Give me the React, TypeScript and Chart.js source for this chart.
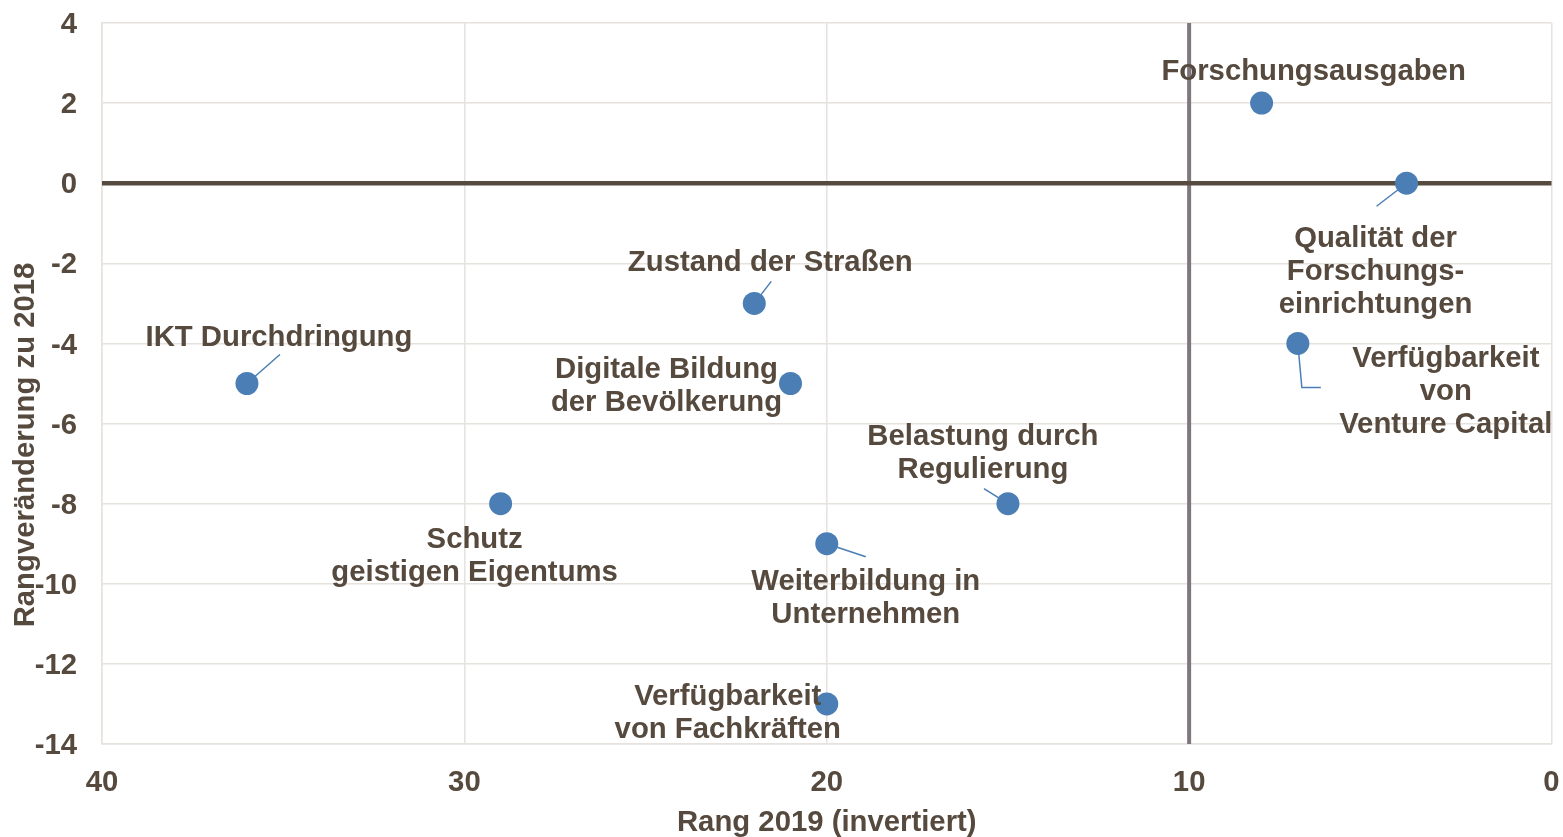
import React, { useEffect, useRef } from "react";
import { Chart, registerables } from "chart.js";

Chart.register(...registerables);

const categories: string[][] = [
  ["Forschungsausgaben"],
  ["Qualität der", "Forschungs-", "einrichtungen"],
  ["Verfügbarkeit", "von", "Venture Capital"],
  ["Zustand der Straßen"],
  ["IKT Durchdringung"],
  ["Digitale Bildung", "der Bevölkerung"],
  ["Schutz", "geistigen Eigentums"],
  ["Belastung durch", "Regulierung"],
  ["Weiterbildung in", "Unternehmen"],
  ["Verfügbarkeit", "von Fachkräften"],
];
const rank2019: number[] = [8, 4, 7, 22, 36, 21, 29, 15, 20, 20];
const rankChange: number[] = [2, 0, -4, -3, -5, -5, -8, -8, -9, -13];

const xTicks: number[] = [0, 10, 20, 30, 40];
const yTicks: number[] = [-14, -12, -10, -8, -6, -4, -2, 0, 2, 4];
const xTitle = "Rang 2019 (invertiert)";
const yTitle = "Rangveränderung zu 2018";

// label placement (pixel offsets from the point) – presentation only
const labelOffsets: [number, number][] = [
  [52, -33], [-31, 54], [148, 13], [16, -42], [32, -48],
  [-124, -16], [-26, 34], [-25, -69], [39, 36], [-99, -9],
];
const leaderPaths: [number, number][][] = [
  [], [[-30, 23]], [[4, 44], [23, 44]], [[17, -22]], [[33, -29]],
  [], [], [[-24, -15]], [[39, 13]], [],
];

const TEXT = "#56493e";
const GRID = "#e6e2de";
const DOT = "#4a7eb5";
const FONT = "'Liberation Sans', Arial, sans-serif";
const FS = 29.3;

export default function App() {
  const ref = useRef<HTMLCanvasElement | null>(null);
  useEffect(() => {
    document.body.style.margin = "0";
    document.body.style.overflow = "hidden";
    const canvas = ref.current;
    if (!canvas) return;

    const plugin = {
      id: "custom",
      beforeDatasetsDraw(chart: any) {
        const { ctx, chartArea: a, scales } = chart;
        ctx.save();
        const x10 = scales.x.getPixelForValue(10);
        ctx.strokeStyle = "#7f767e";
        ctx.lineWidth = 4;
        ctx.beginPath();
        ctx.moveTo(x10, a.top);
        ctx.lineTo(x10, a.bottom);
        ctx.stroke();
        const y0 = scales.y.getPixelForValue(0);
        ctx.strokeStyle = "#574a3e";
        ctx.lineWidth = 4.5;
        ctx.beginPath();
        ctx.moveTo(a.left, y0);
        ctx.lineTo(a.right, y0);
        ctx.stroke();
        const meta = chart.getDatasetMeta(0);
        ctx.strokeStyle = DOT;
        ctx.lineWidth = 1.5;
        meta.data.forEach((pt: any, i: number) => {
          const path = leaderPaths[i];
          if (!path.length) return;
          ctx.beginPath();
          ctx.moveTo(pt.x, pt.y);
          path.forEach(([dx, dy]) => ctx.lineTo(pt.x + dx, pt.y + dy));
          ctx.stroke();
        });
        ctx.restore();
      },
      afterDatasetsDraw(chart: any) {
        const { ctx, chartArea: a } = chart;
        const meta = chart.getDatasetMeta(0);
        ctx.save();
        ctx.fillStyle = TEXT;
        ctx.font = `bold ${FS}px ${FONT}`;
        ctx.textAlign = "center";
        ctx.textBaseline = "middle";
        meta.data.forEach((pt: any, i: number) => {
          const [dx, dy] = labelOffsets[i];
          categories[i].forEach((line, j) => {
            ctx.fillText(line, pt.x + dx, pt.y + dy + 2 + j * 33);
          });
        });
        ctx.fillText(xTitle, (a.left + a.right) / 2, 823);
        ctx.translate(26, 445);
        ctx.rotate(-Math.PI / 2);
        ctx.fillText(yTitle, 0, 0);
        ctx.restore();
      },
    };

    const chart = new Chart(canvas, {
      type: "scatter",
      data: {
        datasets: [
          {
            data: rank2019.map((x, i) => ({ x, y: rankChange[i] })),
            backgroundColor: DOT,
            borderColor: DOT,
            borderWidth: 0,
            pointRadius: 11.5,
            pointHoverRadius: 11.5,
          },
        ],
      },
      options: {
        responsive: false,
        animation: false,
        layout: { padding: { top: 23, right: 9, left: 0, bottom: 0 } },
        plugins: {
          legend: { display: false },
          tooltip: { enabled: false },
        },
        scales: {
          x: {
            type: "linear",
            reverse: true,
            min: 0,
            max: 40,
            afterBuildTicks: (s: any) => {
              s.ticks = xTicks.map((v) => ({ value: v }));
            },
            afterFit: (s: any) => {
              s.height = 93;
              s.paddingLeft = 0;
              s.paddingRight = 0;
            },
            ticks: {
              color: TEXT,
              font: { family: FONT, size: FS, weight: "bold" },
              padding: 21,
              maxRotation: 0,
            },
            grid: { color: GRID, lineWidth: 1.5, drawTicks: false },
            border: { color: GRID, width: 1.5 },
          },
          y: {
            type: "linear",
            min: -14,
            max: 4,
            afterBuildTicks: (s: any) => {
              s.ticks = yTicks.map((v) => ({ value: v }));
            },
            afterFit: (s: any) => {
              s.width = 102;
              s.paddingTop = 0;
              s.paddingBottom = 0;
            },
            ticks: {
              color: TEXT,
              font: { family: FONT, size: FS, weight: "bold" },
              padding: 25,
              labelOffset: 2,
            },
            grid: { color: GRID, lineWidth: 1.5, drawTicks: false },
            border: { color: GRID, width: 1.5 },
          },
        },
      },
      plugins: [plugin],
    });
    return () => chart.destroy();
  }, []);

  return <canvas ref={ref} width={1563} height={837} style={{ display: "block" }} />;
}
